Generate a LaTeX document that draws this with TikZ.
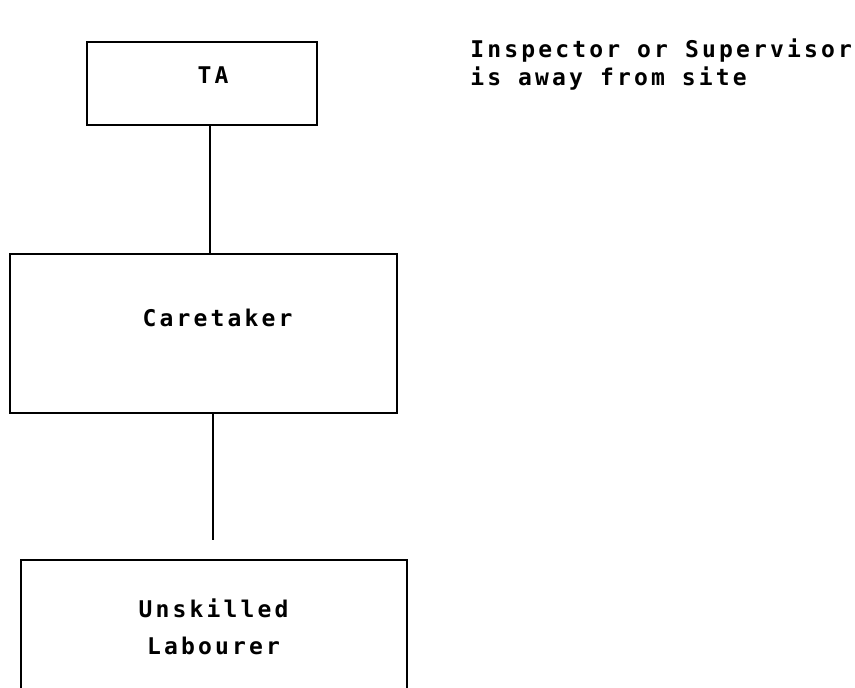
\documentclass[tikz,border=0pt]{standalone}
\usepackage{fontspec}
\newfontfamily\plotfont[LetterSpace=13.7]{DejaVu Sans Mono}
\tikzset{
    rolebox/.style={draw, line width=1.4pt, inner sep=0pt},
    roletext/.style={font=\plotfont\bfseries\fontsize{11.5}{14}\selectfont, inner sep=0pt},
    link/.style={line width=1.3pt}
}
\begin{document}
\begin{tikzpicture}[x=0.5pt, y=-0.5pt]
    \useasboundingbox (0,0) rectangle (855,688);

    % boxes
    \node[rolebox, minimum width=115pt, minimum height=41.5pt] (ta) at (202,83.5) {};
    \node[rolebox, minimum width=193.5pt, minimum height=79.5pt] (care) at (203.5,333.5) {};
    \node[rolebox, minimum width=193pt, minimum height=65pt] (lab) at (214,625) {};

    % texts
    \node[roletext, anchor=base] (tatext) at (213,84) {TA};
    \node[roletext, anchor=base] (caretext) at (217.5,327) {Caretaker};
    \node[roletext, anchor=north, align=center,
          font=\plotfont\bfseries\fontsize{11.5}{18.5}\selectfont] (labtext) at (213.5,598.5) {Unskilled\\Labourer};
    \node[roletext, anchor=north west, align=left] (note) at (470,38) {Inspector or Supervisor\\is away from site};

    % connectors
    \coordinate (stub) at (213,540);
    \draw[link] ([xshift=4pt]ta.south) -- ([xshift=4pt]ta.south |- care.north);
    \draw[link] (care.south -| stub) -- (stub);
\end{tikzpicture}
\end{document}
